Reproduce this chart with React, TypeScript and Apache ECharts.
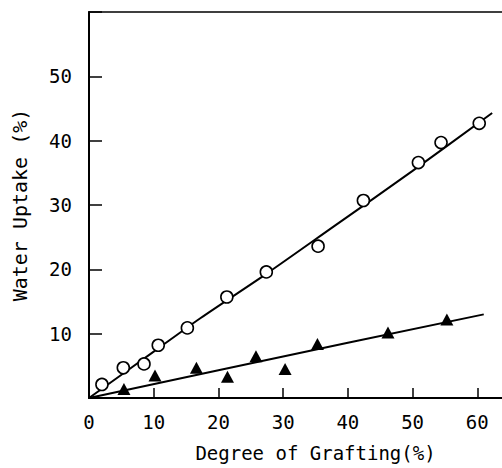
import React, { useEffect, useRef } from "react";
import * as echarts from "echarts";

const circleX = [2, 5.3, 8.5, 10.7, 15.2, 21.3, 27.4, 35.4, 42.4, 50.9, 54.4, 60.3];
const circleY = [2.1, 4.7, 5.3, 8.2, 10.9, 15.7, 19.6, 23.6, 30.7, 36.6, 39.7, 42.7];
const triX = [5.4, 10.2, 16.6, 21.4, 25.8, 30.3, 35.3, 46.2, 55.3];
const triY = [1.4, 3.5, 4.7, 3.3, 6.5, 4.5, 8.4, 10.2, 12.2];
const circleFitX = [0, 10, 17.2, 27.4, 38, 50, 62.3];
const circleFitY = [0, 7.2, 12.4, 19.3, 26.8, 35.3, 44.3];
const triFitX = [0, 20, 40, 61];
const triFitY = [0, 4.3, 8.6, 13.0];
const xTicks = [0, 10, 20, 30, 40, 50, 60, 70];
const xLabels = ["0", "10", "20", "30", "40", "50", "60", ""];
const yLabels = ["", "10", "20", "30", "40", "50", ""];

const FONT = "DejaVu Sans Mono";

export default function App() {
  const ref = useRef<HTMLDivElement>(null);
  useEffect(() => {
    document.body.style.margin = "0";
    const chart = echarts.init(ref.current!, null, { renderer: "svg" });
    const zip = (xs: number[], ys: number[]) => xs.map((x, i) => [x, ys[i]]);
    chart.setOption({
      animation: false,
      backgroundColor: "#fff",
      grid: {
        left: 89,
        top: 12,
        width: 453,
        height: 386,
        show: true,
        borderColor: "#000",
        borderWidth: 1.5,
      },
      xAxis: {
        type: "value",
        min: xTicks[0],
        max: xTicks[xTicks.length - 1],
        interval: 10,
        name: "Degree of Grafting(%)",
        nameLocation: "middle",
        nameGap: 45,
        nameTextStyle: { fontFamily: FONT, fontSize: 19, color: "#000" },
        axisLine: { lineStyle: { color: "#000", width: 2 } },
        axisTick: { inside: true, length: 10, lineStyle: { color: "#000", width: 1.5 } },
        axisLabel: {
          fontFamily: FONT,
          fontSize: 19,
          color: "#000",
          margin: 14,
          formatter: (v: number) => xLabels[xTicks.indexOf(v)] ?? "",
        },
        splitLine: { show: false },
      },
      yAxis: {
        type: "value",
        min: 0,
        max: 60,
        interval: 10,
        name: "Water Uptake (%)",
        nameLocation: "middle",
        nameGap: 59,
        nameTextStyle: { fontFamily: FONT, fontSize: 20, color: "#000" },
        axisLine: { show: true, lineStyle: { color: "#000", width: 2 } },
        axisTick: { inside: true, length: 13, lineStyle: { color: "#000", width: 1.5 } },
        axisLabel: {
          fontFamily: FONT,
          fontSize: 19,
          color: "#000",
          margin: 17,
          formatter: (v: number) => yLabels[Math.round(v / 10)] ?? "",
        },
        splitLine: { show: false },
      },
      series: [
        {
          type: "line",
          data: zip(circleFitX, circleFitY),
          smooth: 0.3,
          showSymbol: false,
          lineStyle: { color: "#000", width: 2 },
          z: 1,
        },
        {
          type: "line",
          data: zip(triFitX, triFitY),
          showSymbol: false,
          lineStyle: { color: "#000", width: 2 },
          z: 1,
        },
        {
          type: "scatter",
          data: zip(circleX, circleY),
          symbol: "circle",
          symbolSize: 12,
          itemStyle: { color: "#fff", borderColor: "#000", borderWidth: 1.6, opacity: 1 },
          z: 3,
        },
        {
          type: "scatter",
          data: zip(triX, triY),
          symbol: "triangle",
          symbolSize: [13, 12],
          itemStyle: { color: "#000", opacity: 1 },
          z: 3,
        },
      ],
    });
    return () => chart.dispose();
  }, []);
  return (
    <div style={{ width: 502, height: 468, overflow: "hidden", position: "relative", background: "#fff" }}>
      <div ref={ref} style={{ width: 560, height: 468 }} />
    </div>
  );
}
